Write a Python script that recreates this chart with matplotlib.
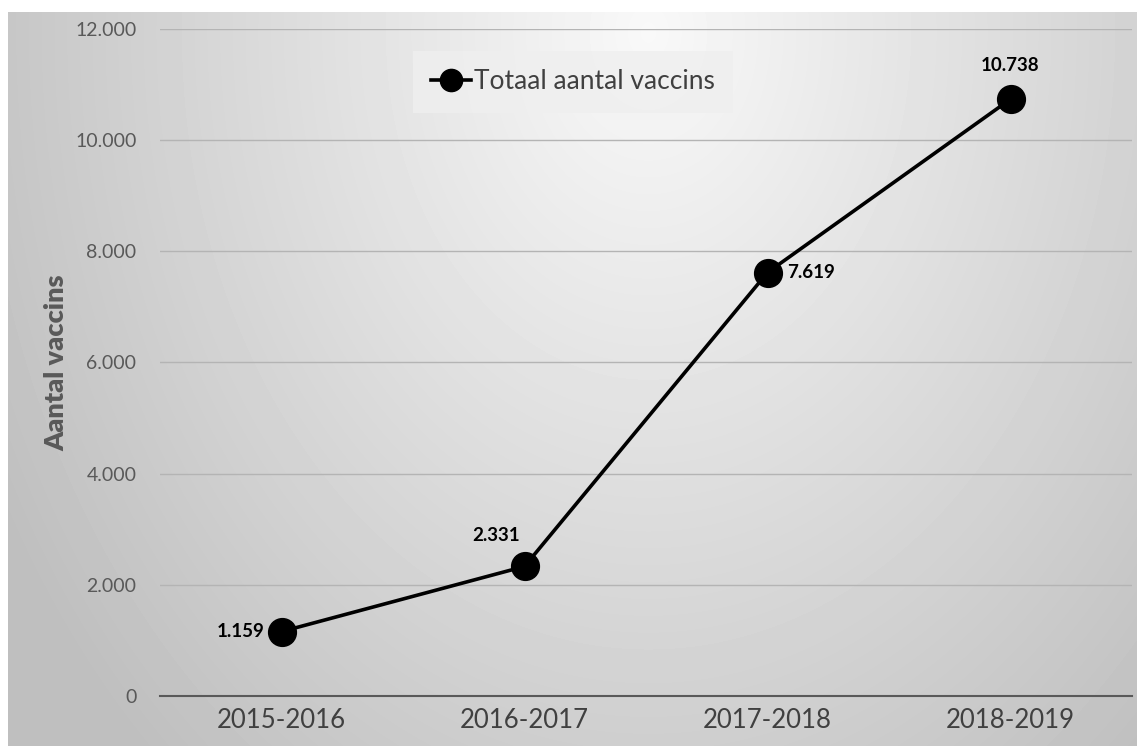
import numpy as np
import matplotlib.pyplot as plt
from matplotlib.ticker import FuncFormatter

# data
seizoenen = ['2015-2016', '2016-2017', '2017-2018', '2018-2019']
vaccins = [1159, 2331, 7619, 10738]
yticks = [0, 2000, 4000, 6000, 8000, 10000, 12000]

plt.rcParams['font.family'] = ['Lato', 'DejaVu Sans']

W, H = 1137, 746
fig = plt.figure(figsize=(W / 100, H / 100), dpi=100)
fig.patch.set_facecolor('white')

# radial gray background behind the chart
bg = fig.add_axes([8 / W, 0, 1 - 8 / W, (H - 12) / H])
yy, xx = np.mgrid[0:734, 0:1129]
r = np.sqrt(((xx - 640) / 620.0) ** 2 + ((yy - 20) / 820.0) ** 2)
shade = 0.975 - 0.19 * np.clip(r, 0, 1.2)
bg.imshow(shade, cmap='gray', vmin=0, vmax=1, aspect='auto', interpolation='bilinear')
bg.axis('off')

ax = fig.add_axes([160 / W, 50 / H, (1132 - 160) / W, (717 - 50) / H])
ax.patch.set_alpha(0)
x = np.arange(len(seizoenen))
ax.plot(x, vaccins, color='black', lw=2.6, marker='o', markersize=20,
        label='Totaal aantal vaccins', zorder=5)

ax.set_xlim(-0.5, len(seizoenen) - 0.5)
ax.set_ylim(0, 12000)
ax.set_yticks(yticks)
ax.yaxis.set_major_formatter(FuncFormatter(lambda v, p: f'{int(v):,}'.replace(',', '.')))
ax.set_xticks(x)
ax.set_xticklabels(seizoenen)
ax.tick_params(axis='y', length=0, pad=17, labelsize=14, labelcolor='#595959')
ax.tick_params(axis='x', length=0, pad=9, labelsize=18.5, labelcolor='#404040')
for s in ['top', 'right', 'left']:
    ax.spines[s].set_visible(False)
ax.spines['bottom'].set_color('#595959')
ax.spines['bottom'].set_linewidth(1.5)
ax.grid(axis='y', color='#b4b4b4', lw=1)
ax.set_axisbelow(True)

# value labels
offsets = [(-12, 0, 'right', 'center'), (-3, 16, 'right', 'bottom'),
           (14, 0, 'left', 'center'), (0, 18, 'center', 'bottom')]
for xi, v, (dx, dy, ha, va) in zip(x, vaccins, offsets):
    ax.annotate(f'{v:,}'.replace(',', '.'), (xi, v), xytext=(dx, dy),
                textcoords='offset points', ha=ha, va=va,
                fontsize=13.5, fontweight='bold', color='black')

fig.text(56 / W, 1 - 363 / H, 'Aantal vaccins', rotation=90, ha='center', va='center',
         fontsize=19.5, fontweight='heavy', color='#595959')

leg = ax.legend(loc='center', bbox_to_anchor=((573 - 160) / 972, (H - 82 - 50) / 667),
                fontsize=19, frameon=True, fancybox=False, markerscale=0.8,
                handlelength=1.5, handletextpad=0.1, borderpad=0.7)
leg.get_frame().set_facecolor('#efefef')
leg.get_frame().set_edgecolor('none')
leg.get_frame().set_alpha(0.8)
for t in leg.get_texts():
    t.set_color('#404040')

fig.savefig('out.png', dpi=100, facecolor='white')
